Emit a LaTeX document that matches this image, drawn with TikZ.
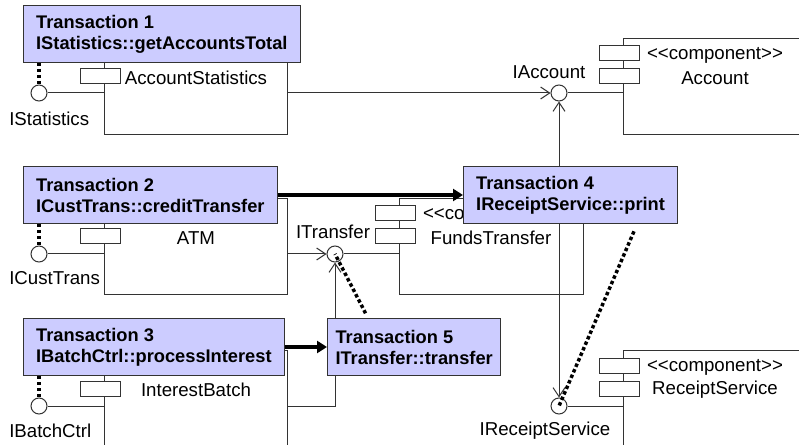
\documentclass[tikz,border=0pt]{standalone}
\usepackage{fontspec}
\newfontfamily\arial{Liberation Sans}
\usetikzlibrary{arrows.meta,calc}
\definecolor{txfill}{HTML}{CCCCFF}
\definecolor{linegray}{HTML}{333333}
\newcommand{\stereotype}{<\kern0pt<component>\kern0pt>}

\tikzset{
  comp/.style={draw=linegray, line width=0.75pt, anchor=north west, inner sep=0pt},
  tabbox/.style={draw=linegray, fill=white, line width=0.75pt},
  ctext/.style={font=\arial\fontsize{14}{16}\selectfont, inner sep=0pt},
  iface/.style={circle, draw=linegray, fill=white, line width=0.75pt, minimum size=12pt, inner sep=0pt},
  lbl/.style={font=\arial\fontsize{14}{16}\selectfont, inner sep=0pt},
  txbox/.style={draw=linegray, fill=txfill, line width=0.75pt, anchor=north west, align=left,
    font=\arial\bfseries\fontsize{13.7}{15.75}\selectfont, inner xsep=9.5pt, minimum height=42.75pt},
  wire/.style={draw=linegray, line width=0.75pt},
  req/.style={wire, -{Straight Barb[length=6.75pt,width=9pt]}},
  calls/.style={line width=3pt, -{Triangle[length=7.5pt,width=9pt]}},
  dep/.style={line width=2.6pt, dash pattern=on 2.6pt off 1.9pt}
}

\begin{document}
\begin{tikzpicture}[x=0.75pt,y=-0.75pt]
\path[use as bounding box, clip] (0,0) rectangle (799,445);

% components with their two tabs
\foreach \n/\x/\y/\w/\h/\cname in {acst/104/38/183/96/AccountStatistics, atm/104/198/183/96/ATM,
    ibat/104/350/183/110/InterestBatch, acct/623/38/220/96/Account,
    fund/399/198/184/96/FundsTransfer, rsvc/623/350/220/110/ReceiptService} {
  \node[comp, minimum width=\w*0.75pt, minimum height=\h*0.75pt] (\n) at (\x,\y) {};
  \draw[tabbox] ($(\n.north west)+(-24,8)$) rectangle ++(40,15);
  \draw[tabbox] ($(\n.north west)+(-24,31)$) rectangle ++(40,15);
  \node[ctext] (\n-st) at ($(\n.north west)+(92,17)$) {\stereotype};
  \node[ctext] (\n-nm) at ($(\n.north west)+(92,40)$) {\cname};
}

% interfaces
\node[iface] (ist) at (39,93) {};
\node[iface] (ict) at (39,254) {};
\node[iface] (ibc) at (39,406) {};
\node[iface] (iacc) at (559,93) {};
\node[iface] (itr) at (335,254) {};
\node[iface] (irs) at (559,406) {};

\node[lbl, anchor=west] (ist-l) at ($(ist)+(-30,26)$) {IStatistics};
\node[lbl, anchor=west] (ict-l) at ($(ict)+(-30,24)$) {ICustTrans};
\node[lbl, anchor=west] (ibc-l) at ($(ibc)+(-30,25)$) {IBatchCtrl};
\node[lbl] (iacc-l) at ($(iacc)+(-10,-21)$) {IAccount};
\node[lbl] (itr-l) at ($(itr)+(-2,-22)$) {ITransfer};
\node[lbl] (irs-l) at ($(irs)+(-14,25)$) {IReceiptService};

% provided / required
\draw[wire] (ist) -- (ist -| acst.west);
\draw[wire] (ict) -- (ict -| atm.west);
\draw[wire] (ibc) -- (ibc -| ibat.west);
\draw[wire] (iacc) -- (iacc -| acct.west);
\draw[wire] (itr) -- (itr -| fund.west);
\draw[wire] (irs) -- (irs -| rsvc.west);
\draw[req] (acst.east |- iacc) -- (iacc);
\draw[req] (atm.east |- itr) -- (itr);
\draw[req] (ibat.east |- ibc) -| (itr);
\coordinate (fmid) at (iacc |- fund.center);
\draw[req] (fmid) -- (iacc);
\draw[req] (fmid) -- (irs);

% transactions
\node[txbox] (t1) at (23,5) {Transaction 1\\IStatistics::getAccountsTotal};
\node[txbox] (t2) at (23,166) {Transaction 2\\ICustTrans::creditTransfer};
\node[txbox] (t3) at (23,318) {Transaction 3\\IBatchCtrl::processInterest};
\node[txbox] (t4) at (463,166) {Transaction 4\\IReceiptService::print};
\node[txbox, inner xsep=6pt] (t5) at (327,318) {Transaction 5\\ITransfer::transfer};

\draw[calls] (t2) -- (t4);
\draw[calls] (t3) -- (t5);

\draw[dep] (ist |- t1.south) -- (ist.north);
\draw[dep] (ict |- t2.south) -- (ict.north);
\draw[dep] (ibc |- t3.south) -- (ibc.north);
\draw[dep, shorten <=4pt] ($(t5.north west)+(41,0)$) -- (itr.center);
\draw[dep, shorten <=6pt] ($(t4.south east)+(-41,0)$) -- (irs.center);
\end{tikzpicture}
\end{document}
